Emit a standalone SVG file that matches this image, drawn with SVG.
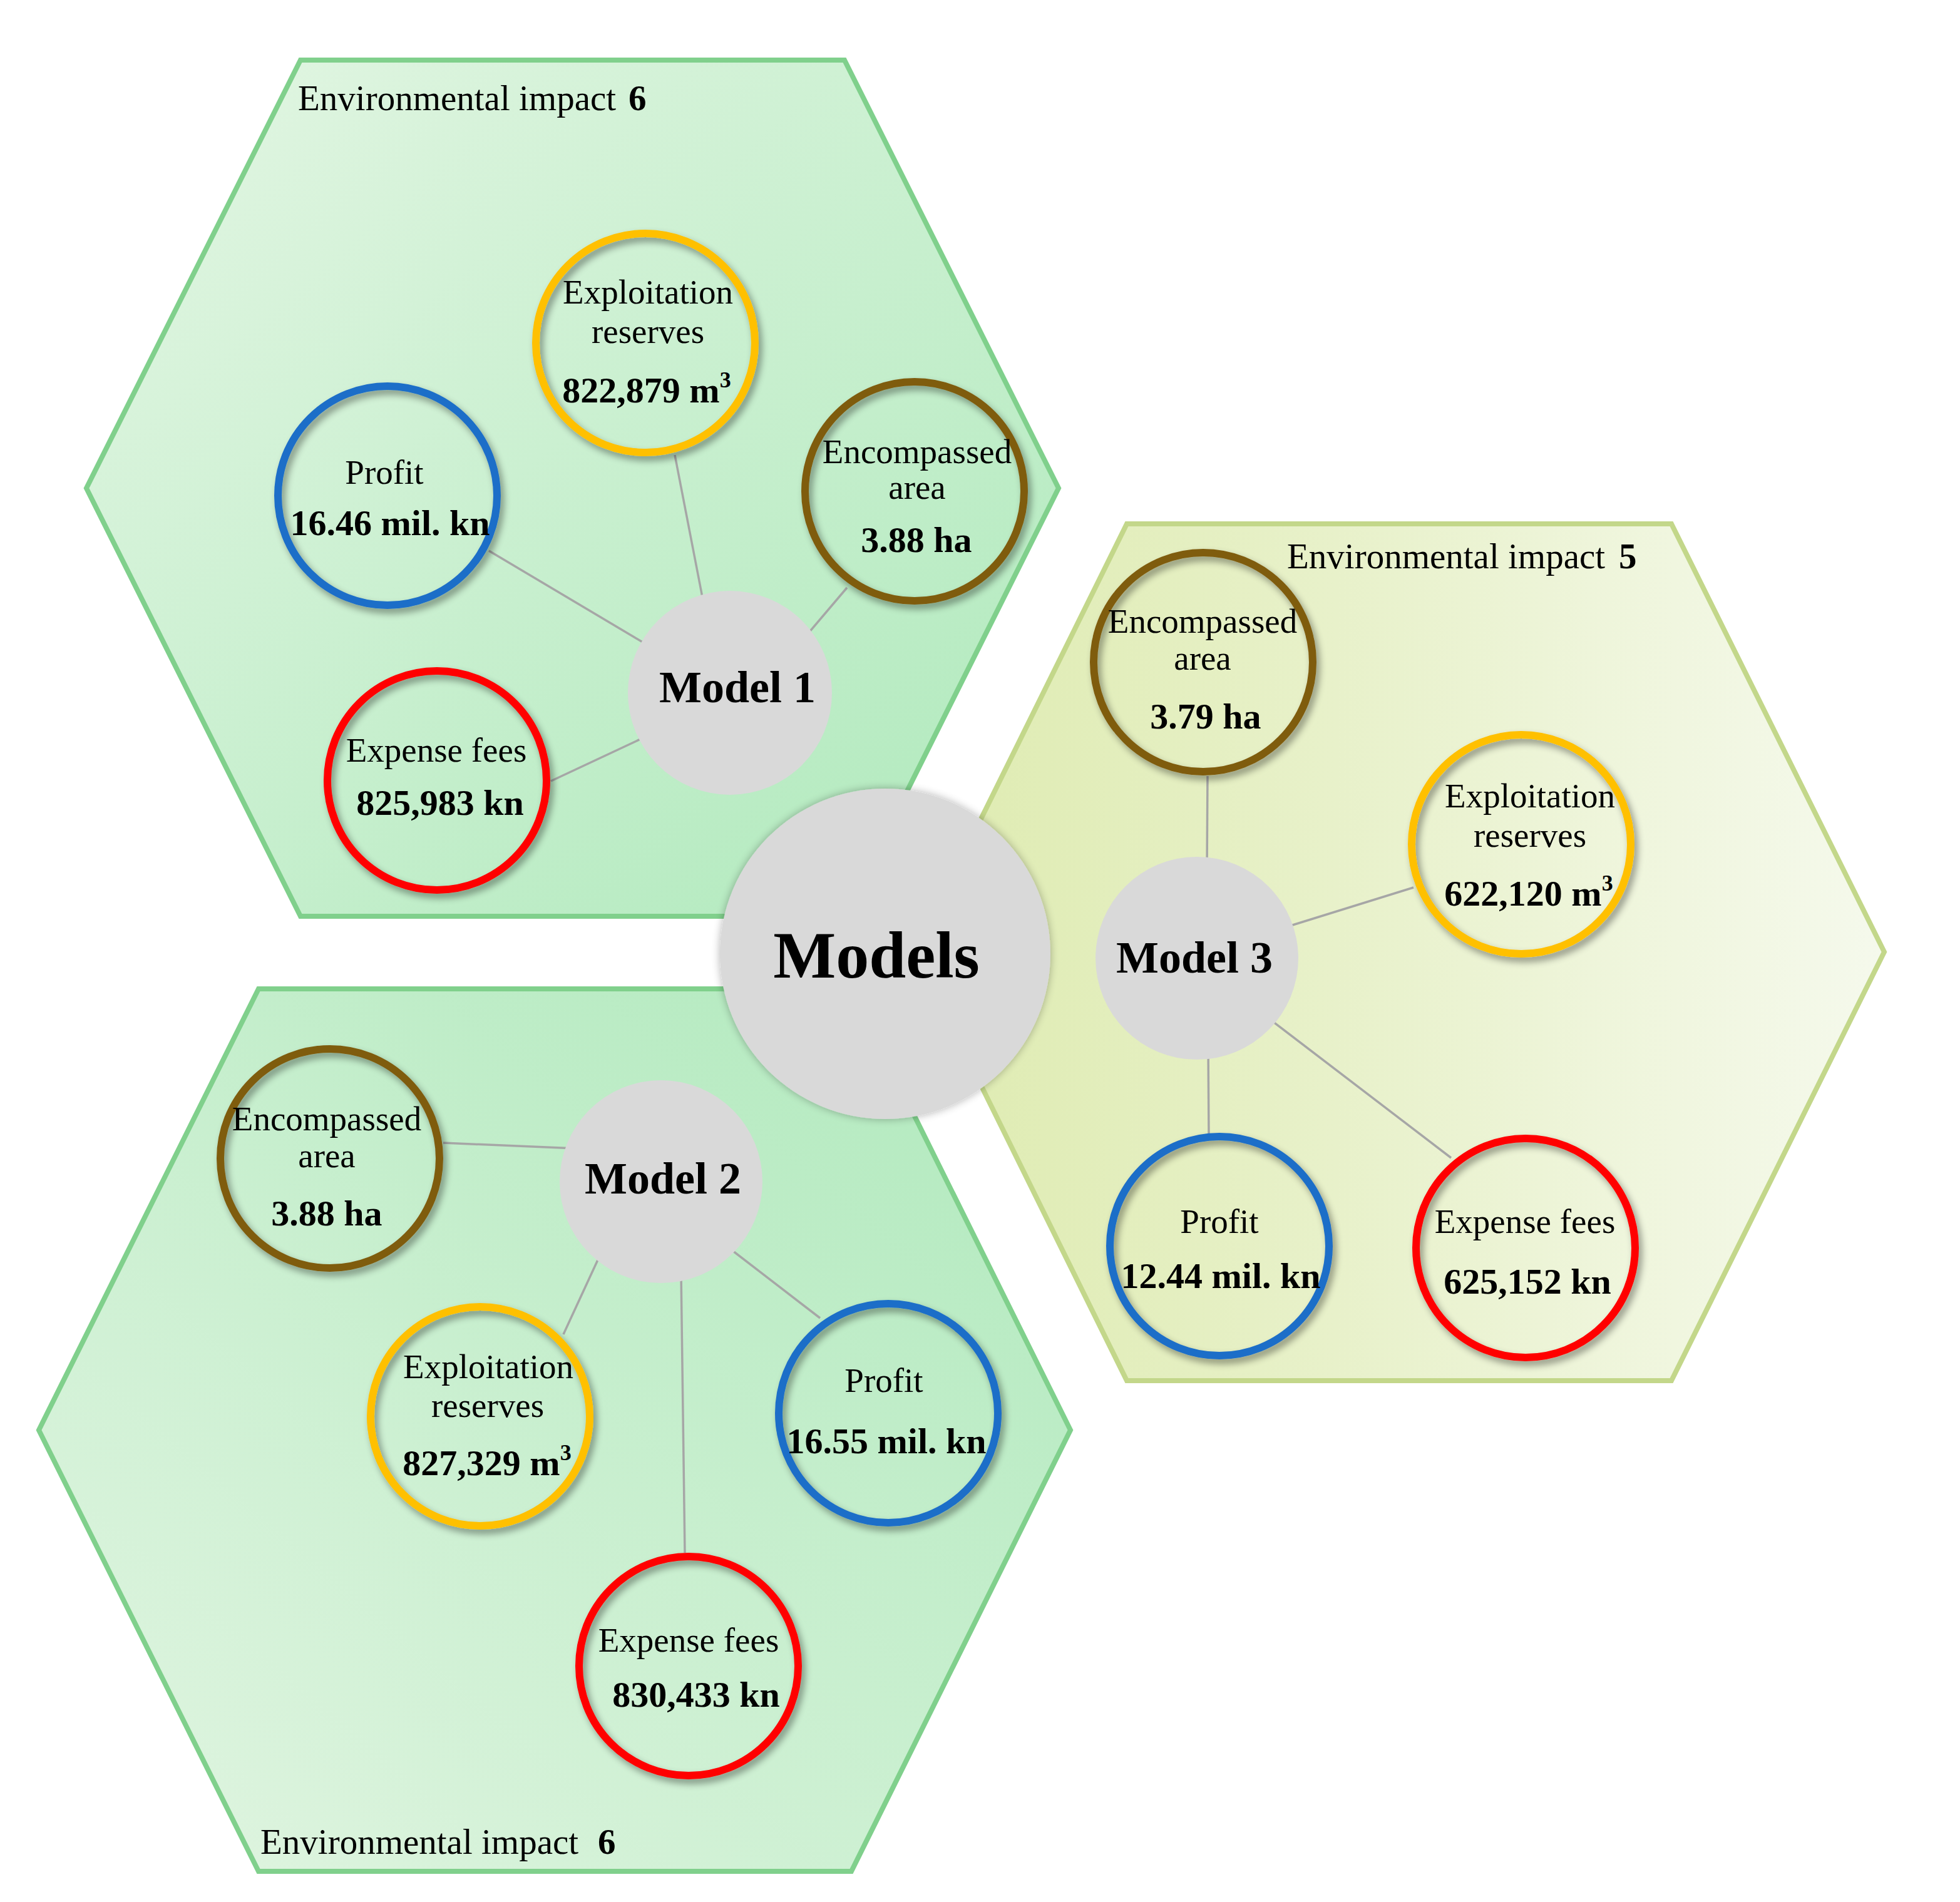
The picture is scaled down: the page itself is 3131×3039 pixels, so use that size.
<svg xmlns="http://www.w3.org/2000/svg" width="3131" height="3039" viewBox="0 0 3131 3039">
<defs>
<linearGradient id="g1" x1="0" y1="0" x2="1" y2="1">
<stop offset="0" stop-color="#e4f6e4"/><stop offset="1" stop-color="#aee9bb"/>
</linearGradient>
<linearGradient id="g2" x1="0" y1="1" x2="1" y2="0">
<stop offset="0" stop-color="#e2f5e2"/><stop offset="1" stop-color="#afe9bc"/>
</linearGradient>
<linearGradient id="g3" x1="0" y1="0" x2="1" y2="0">
<stop offset="0" stop-color="#deebb0"/><stop offset="1" stop-color="#f5f9ec"/>
</linearGradient>
<filter id="sh" x="-20%" y="-20%" width="140%" height="140%">
<feGaussianBlur in="SourceAlpha" stdDeviation="6"/>
<feOffset dx="5" dy="7" result="b"/>
<feComponentTransfer><feFuncA type="linear" slope="0.4"/></feComponentTransfer>
<feMerge><feMergeNode/><feMergeNode in="SourceGraphic"/></feMerge>
</filter>
<filter id="glow" x="-20%" y="-20%" width="140%" height="140%">
<feGaussianBlur in="SourceAlpha" stdDeviation="7"/>
<feOffset dx="0" dy="0"/>
<feComponentTransfer><feFuncA type="linear" slope="0.3"/></feComponentTransfer>
<feMerge><feMergeNode/><feMergeNode in="SourceGraphic"/></feMerge>
</filter>
</defs>
<style>
text{font-family:"Liberation Serif","Times New Roman",serif;fill:#000}
.lbl{font-size:55px;text-anchor:middle}
.val{font-size:58px;font-weight:bold;text-anchor:middle}
.mdl{font-size:72px;font-weight:bold;text-anchor:middle}
.hub{font-size:106px;font-weight:bold;text-anchor:middle}
.env{font-size:57px}
.b{font-weight:bold}
.sup{font-size:36px}
.ring{fill:none;stroke-width:12;filter:url(#sh)}
.or{stroke:#ffc000}.bl{stroke:#1d6ec8}.br{stroke:#7f5b10}.rd{stroke:#ff0000}
.mc{fill:#d9d9d9}
.hexg{stroke:#80d08c;stroke-width:8}
.hexy{stroke:#c3d78a;stroke-width:8}
.con line{stroke:#a6a6a6;stroke-width:3.5}
</style>

<g id="area1">
<polygon class="hexg" fill="url(#g1)" points="480,96 1349,96 1691,780 1349,1464 480,1464 138,780"/>
<text class="env" x="476" y="176">Environmental impact</text><text class="env b" x="1004" y="176">6</text>
</g>
<g id="area2">
<polygon class="hexg" fill="url(#g2)" points="413,1580 1360,1580 1710,2285 1360,2990 413,2990 62,2285"/>
<text class="env" x="416" y="2962">Environmental impact</text><text class="env b" x="955" y="2962">6</text>
</g>
<g id="area3">
<polygon class="hexy" fill="url(#g3)" points="1800,837 2670,837 3010,1521 2670,2206 1800,2206 1462,1521"/>
<text class="env" x="2056" y="908">Environmental impact</text><text class="env b" x="2586" y="908">5</text>
</g>

<g id="connectors" class="con">
<line x1="781" y1="880" x2="1045" y2="1037"/>
<line x1="1078" y1="727" x2="1128" y2="985"/>
<line x1="1353" y1="939" x2="1280" y2="1025"/>
<line x1="880" y1="1248" x2="1040" y2="1173"/>
<line x1="708" y1="1826" x2="920" y2="1835"/>
<line x1="900" y1="2132" x2="961" y2="2000"/>
<line x1="1310" y1="2106" x2="1162" y2="1992"/>
<line x1="1094" y1="2481" x2="1088" y2="2034"/>
<line x1="1929" y1="1240" x2="1928" y2="1390"/>
<line x1="2258" y1="1418" x2="2052" y2="1482"/>
<line x1="1931" y1="1812" x2="1930" y2="1670"/>
<line x1="2318" y1="1850" x2="2020" y2="1622"/>
</g>

<g id="hub">
<circle class="mc" cx="1414" cy="1524" r="264" filter="url(#glow)"/>
<text class="hub" x="1400" y="1562">Models</text>
</g>

<g id="model1">
<circle class="mc" cx="1166" cy="1107" r="163"/>
<text class="mdl" x="1178" y="1122">Model 1</text>
</g>
<g id="m1-exploitation">
<circle class="ring or" cx="1031" cy="548" r="175"/>
<text class="lbl" x="1035" y="485">Exploitation</text>
<text class="lbl" x="1035" y="548">reserves</text>
<text class="val" x="1033" y="643">822,879 m<tspan class="sup" dy="-24">3</tspan></text>
</g>
<g id="m1-profit">
<circle class="ring bl" cx="619" cy="792" r="175"/>
<text class="lbl" x="614" y="773">Profit</text>
<text class="val" x="623" y="855">16.46 mil. kn</text>
</g>
<g id="m1-area">
<circle class="ring br" cx="1461" cy="785" r="175"/>
<text class="lbl" x="1465" y="740">Encompassed</text>
<text class="lbl" x="1465" y="797">area</text>
<text class="val" x="1464" y="882">3.88 ha</text>
</g>
<g id="m1-expense">
<circle class="ring rd" cx="698" cy="1247" r="175"/>
<text class="lbl" x="697" y="1217">Expense fees</text>
<text class="val" x="703" y="1302">825,983 kn</text>
</g>

<g id="model2">
<circle class="mc" cx="1056" cy="1888" r="162"/>
<text class="mdl" x="1059" y="1907">Model 2</text>
</g>
<g id="m2-area">
<circle class="ring br" cx="527" cy="1851" r="175"/>
<text class="lbl" x="522" y="1806">Encompassed</text>
<text class="lbl" x="522" y="1865">area</text>
<text class="val" x="522" y="1958">3.88 ha</text>
</g>
<g id="m2-exploitation">
<circle class="ring or" cx="767" cy="2263" r="175"/>
<text class="lbl" x="780" y="2202">Exploitation</text>
<text class="lbl" x="779" y="2264">reserves</text>
<text class="val" x="778" y="2357">827,329 m<tspan class="sup" dy="-24">3</tspan></text>
</g>
<g id="m2-profit">
<circle class="ring bl" cx="1419" cy="2258" r="175"/>
<text class="lbl" x="1412" y="2224">Profit</text>
<text class="val" x="1416" y="2322">16.55 mil. kn</text>
</g>
<g id="m2-expense">
<circle class="ring rd" cx="1100" cy="2662" r="175"/>
<text class="lbl" x="1100" y="2639">Expense fees</text>
<text class="val" x="1112" y="2727">830,433 kn</text>
</g>

<g id="model3">
<circle class="mc" cx="1912" cy="1531" r="162"/>
<text class="mdl" x="1908" y="1554">Model 3</text>
</g>
<g id="m3-area">
<circle class="ring br" cx="1922" cy="1058" r="175"/>
<text class="lbl" x="1921" y="1011">Encompassed</text>
<text class="lbl" x="1921" y="1070">area</text>
<text class="val" x="1926" y="1164">3.79 ha</text>
</g>
<g id="m3-exploitation">
<circle class="ring or" cx="2430" cy="1349" r="175"/>
<text class="lbl" x="2444" y="1290">Exploitation</text>
<text class="lbl" x="2444" y="1353">reserves</text>
<text class="val" x="2442" y="1447">622,120 m<tspan class="sup" dy="-24">3</tspan></text>
</g>
<g id="m3-profit">
<circle class="ring bl" cx="1948" cy="1991" r="175"/>
<text class="lbl" x="1948" y="1970">Profit</text>
<text class="val" x="1950" y="2058">12.44 mil. kn</text>
</g>
<g id="m3-expense">
<circle class="ring rd" cx="2437" cy="1994" r="175"/>
<text class="lbl" x="2436" y="1970">Expense fees</text>
<text class="val" x="2440" y="2067">625,152 kn</text>
</g>
</svg>
